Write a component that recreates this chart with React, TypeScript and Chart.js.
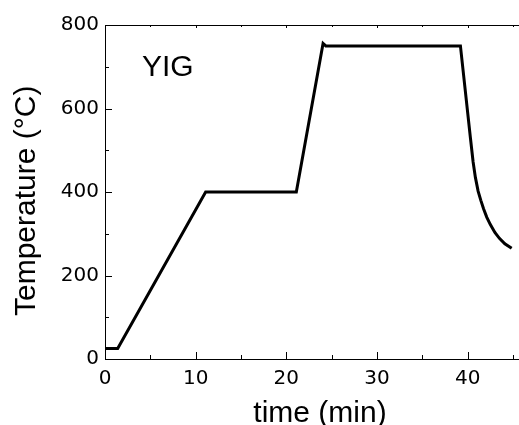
import React, { useEffect, useRef } from "react";
import { Chart, registerables } from "chart.js";

Chart.register(...registerables);

// Data
const timeMin = [0, 1.4, 11.1, 21.1, 24.05, 24.35, 39.2, 40.3, 40.6, 40.85, 41.15, 41.45, 41.75, 42.1, 42.5, 43.0, 43.5, 44.1, 44.85];
const tempC = [25, 25, 400, 400, 756, 750, 750, 530, 472, 435, 402, 380, 360, 340, 322, 303, 289, 276, 265];

const xTickValues = [0, 10, 20, 30, 40];
const xMinorValues = [5, 15, 25, 35, 45];
const yTickValues = [0, 200, 400, 600, 800];
const yMinorValues = [100, 300, 500, 700];

const xTitle = "time (min)";
const yTitle = "Temperature (°C)";
const annotation = "YIG";

const TITLE_FONT = "30px 'Liberation Sans', Arial, sans-serif";

const axisDecor = {
  id: "axisDecor",
  afterDraw(chart: any) {
    const { ctx, chartArea, scales } = chart;
    const { left, right, top, bottom } = chartArea;
    const x = scales.x;
    const y = scales.y;
    ctx.save();
    ctx.strokeStyle = "#000";
    ctx.lineWidth = 1;
    // top frame line
    ctx.beginPath();
    ctx.moveTo(left, Math.round(top) + 0.5);
    ctx.lineTo(right, Math.round(top) + 0.5);
    ctx.stroke();
    // x ticks (inward, bottom and top)
    const xs = [...xTickValues.map((v) => [v, true]), ...xMinorValues.map((v) => [v, false])] as [number, boolean][];
    ctx.beginPath();
    for (const [v, major] of xs) {
      const px = Math.round(x.getPixelForValue(v)) + 0.5;
      if (px > right) continue;
      ctx.moveTo(px, bottom);
      ctx.lineTo(px, bottom - (major ? 7 : 4));
      ctx.moveTo(px, top);
      ctx.lineTo(px, top + (major ? 3 : 2));
    }
    // y ticks (inward, left)
    const ys = [...yTickValues.map((v) => [v, true]), ...yMinorValues.map((v) => [v, false])] as [number, boolean][];
    for (const [v, major] of ys) {
      const py = Math.round(y.getPixelForValue(v)) + 0.5;
      ctx.moveTo(left, py);
      ctx.lineTo(left + (major ? 7 : 4), py);
    }
    ctx.stroke();

    // texts
    ctx.fillStyle = "#000";
    ctx.font = TITLE_FONT;
    ctx.textBaseline = "alphabetic";
    ctx.textAlign = "left";
    ctx.fillText(annotation, 142, 76);
    ctx.textAlign = "center";
    ctx.fillText(xTitle, 320, 422);
    ctx.save();
    ctx.translate(35, 316);
    ctx.rotate(-Math.PI / 2);
    ctx.textAlign = "left";
    ctx.fillText(yTitle, 0, 0);
    ctx.restore();
    ctx.restore();
  },
};

export default function App() {
  const ref = useRef<HTMLCanvasElement>(null);
  useEffect(() => {
    document.body.style.margin = "0";
    const tickFont = { family: "'DejaVu Sans', sans-serif", size: 20 };
    const chart = new Chart(ref.current as HTMLCanvasElement, {
      type: "line",
      data: {
        datasets: [
          {
            data: timeMin.map((t, i) => ({ x: t, y: tempC[i] })),
            borderColor: "#000",
            borderWidth: 3,
            pointRadius: 0,
            tension: 0,
            fill: false,
          },
        ],
      },
      options: {
        responsive: false,
        animation: false,
        devicePixelRatio: 1,
        layout: { padding: { top: 25, right: 0, bottom: 0, left: 0 } },
        plugins: { legend: { display: false }, tooltip: { enabled: false } },
        scales: {
          x: {
            type: "linear",
            min: 0,
            max: 45.66,
            afterBuildTicks: (s: any) => {
              s.ticks = xTickValues.map((v) => ({ value: v }));
            },
            afterFit: (s: any) => {
              s.height = 66;
              s.paddingLeft = 0;
              s.paddingRight = 0;
            },
            grid: { display: false, drawTicks: false },
            border: { display: true, color: "#000", width: 1 },
            ticks: { color: "#000", font: tickFont, padding: 8, maxRotation: 0, autoSkip: false },
          },
          y: {
            type: "linear",
            min: 0,
            max: 800,
            afterBuildTicks: (s: any) => {
              s.ticks = yTickValues.map((v) => ({ value: v }));
            },
            afterFit: (s: any) => {
              s.width = 105;
              s.paddingTop = 0;
              s.paddingBottom = 0;
            },
            grid: { display: false, drawTicks: false },
            border: { display: true, color: "#000", width: 1 },
            ticks: { color: "#000", font: tickFont, padding: 6, autoSkip: false },
          },
        },
      },
      plugins: [axisDecor],
    } as any);
    return () => chart.destroy();
  }, []);
  return (
    <canvas ref={ref} width={519} height={425} style={{ display: "block", width: 519, height: 425 }} />
  );
}
